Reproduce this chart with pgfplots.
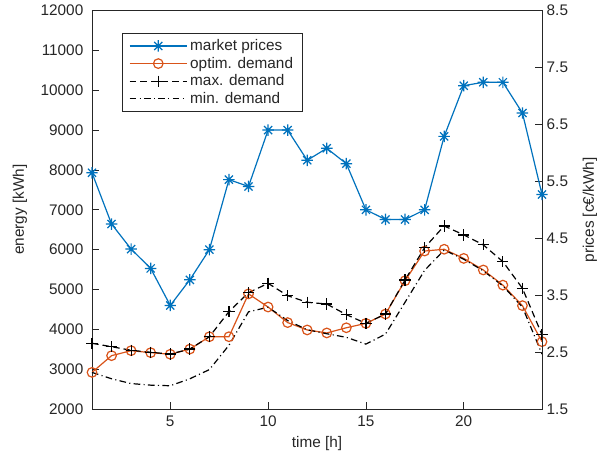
\documentclass[border=0pt]{standalone}
\usepackage{fontspec}
\setmainfont{Liberation Sans}
\usepackage{pgfplots}
\pgfplotsset{compat=1.18}
\definecolor{mblue}{rgb}{0,0.447,0.741}
\definecolor{morange}{rgb}{0.85,0.325,0.098}
\definecolor{maxis}{rgb}{0.15,0.15,0.15}
\pgfdeclareplotmark{mstar}{%
  \pgfpathmoveto{\pgfqpoint{0pt}{\pgfplotmarksize}}\pgfpathlineto{\pgfqpoint{0pt}{-\pgfplotmarksize}}%
  \pgfpathmoveto{\pgfqpoint{\pgfplotmarksize}{0pt}}\pgfpathlineto{\pgfqpoint{-\pgfplotmarksize}{0pt}}%
  \pgfpathmoveto{\pgfqpoint{0.7071\pgfplotmarksize}{0.7071\pgfplotmarksize}}\pgfpathlineto{\pgfqpoint{-0.7071\pgfplotmarksize}{-0.7071\pgfplotmarksize}}%
  \pgfpathmoveto{\pgfqpoint{-0.7071\pgfplotmarksize}{0.7071\pgfplotmarksize}}\pgfpathlineto{\pgfqpoint{0.7071\pgfplotmarksize}{-0.7071\pgfplotmarksize}}%
  \pgfusepathqstroke}
\pgfplotstableread{
x price optim maxd mind
1  5.65 2920 3650 2920
2  4.75 3340 3565 2760
3  4.31 3465 3475 2640
4  3.97 3415 3425 2600
5  3.32 3375 3380 2585
6  3.77 3505 3505 2760
7  4.30 3815 3815 2990
8  5.53 3815 4445 3600
9  5.41 4890 4920 4440
10 6.40 4560 5155 4555
11 6.40 4170 4845 4220
12 5.87 3985 4680 3990
13 6.08 3910 4635 3890
14 5.81 4040 4370 3800
15 5.00 4150 4150 3630
16 4.83 4385 4385 3880
17 4.83 5220 5240 4680
18 5.00 5965 6050 5480
19 6.29 6010 6595 5990
20 7.18 5780 6370 5760
21 7.24 5490 6120 5470
22 7.24 5110 5700 5090
23 6.70 4595 5030 4560
24 5.27 3690 3865 3380
}\datatable
\begin{document}
\begin{tikzpicture}
\pgfplotsset{
  every axis/.append style={
    scale only axis, width=337.5pt, height=298.9pt,
    xmin=1, xmax=24,
    font=\fontsize{11.5}{13}\selectfont,
    tick label style={font=\fontsize{11.5}{13}\selectfont, text=maxis},
    label style={font=\fontsize{11.5}{13}\selectfont, text=maxis},
    /pgf/number format/assume math mode=true,
    axis line style={maxis, line width=0.6pt},
    tick style={maxis, line width=0.6pt},
    major tick length=5pt,
    tick align=inside,
  }
}
\begin{axis}[name=ax,
  ymin=2000, ymax=12000,
  ytick={2000,3000,...,12000},
  scaled y ticks=false,
  yticklabel style={/pgf/number format/1000 sep={}, xshift=-3pt},
  xticklabel style={yshift=-1.5pt},
  xtick={5,10,15,20},
  xtick pos=bottom, ytick pos=left,
  xlabel={time [h]},
  ylabel={energy [kWh]},
  ylabel style={at={(axis description cs:-0.16,0.5)}, anchor=center},
  xlabel style={at={(axis description cs:0.5,-0.0853)}, anchor=center},
]
\addplot[morange, line width=0.9pt, mark=o, mark size=3.6pt] table[x=x, y=optim] {\datatable};
\addplot[black, line width=0.9pt, dash pattern=on 5pt off 3pt, mark=+, mark size=4.2pt, mark options={solid}] table[x=x, y=maxd] {\datatable};
\addplot[black, line width=0.9pt, dash pattern=on 5pt off 2.5pt on 0.8pt off 2.5pt] table[x=x, y=mind] {\datatable};
\end{axis}
\begin{axis}[
  ymin=1.5, ymax=8.5,
  ytick={1.5,2.5,...,8.5},
  axis x line=none,
  axis y line*=right,
  ytick pos=right,
  yticklabel style={/pgf/number format/.cd, fixed, fixed zerofill, precision=1},
  ylabel={prices [c€/kWh]},
  ylabel style={at={(axis description cs:1.1067,0.5)}, anchor=center, rotate=0},
  legend style={at={(axis description cs:0.0667,0.9435)}, anchor=north west,
    draw=maxis, line width=0.5pt, fill=white,
    font=\fontsize{11.5}{13}\selectfont, text=maxis,
    inner xsep=5pt, inner ysep=2.5pt, row sep=-0.6pt,
    cells={anchor=west}},
  legend image code/.code={\draw[mark repeat=2,mark phase=2] plot coordinates {(0pt,0pt)(21.5pt,0pt)(43pt,0pt)};},
]
\addplot[mblue, line width=0.9pt, mark=mstar, mark size=4.3pt] table[x=x, y=price] {\datatable};
\addlegendentry{market prices}
\addlegendimage{morange, line width=0.9pt, mark=o, mark size=3.6pt}
\addlegendentry{optim. demand}
\addlegendimage{black, line width=0.9pt, dash pattern=on 5pt off 3pt, mark=+, mark size=4.2pt, mark options={solid}}
\addlegendentry{max. demand}
\addlegendimage{black, line width=0.9pt, dash pattern=on 5pt off 2.5pt on 0.8pt off 2.5pt}
\addlegendentry{min. demand}
\end{axis}
\pgfresetboundingbox
\path[use as bounding box] ([shift={(-69pt,-37.5pt)}]ax.south west) rectangle ([shift={(48pt,7.9pt)}]ax.north east);
\end{tikzpicture}
\end{document}
